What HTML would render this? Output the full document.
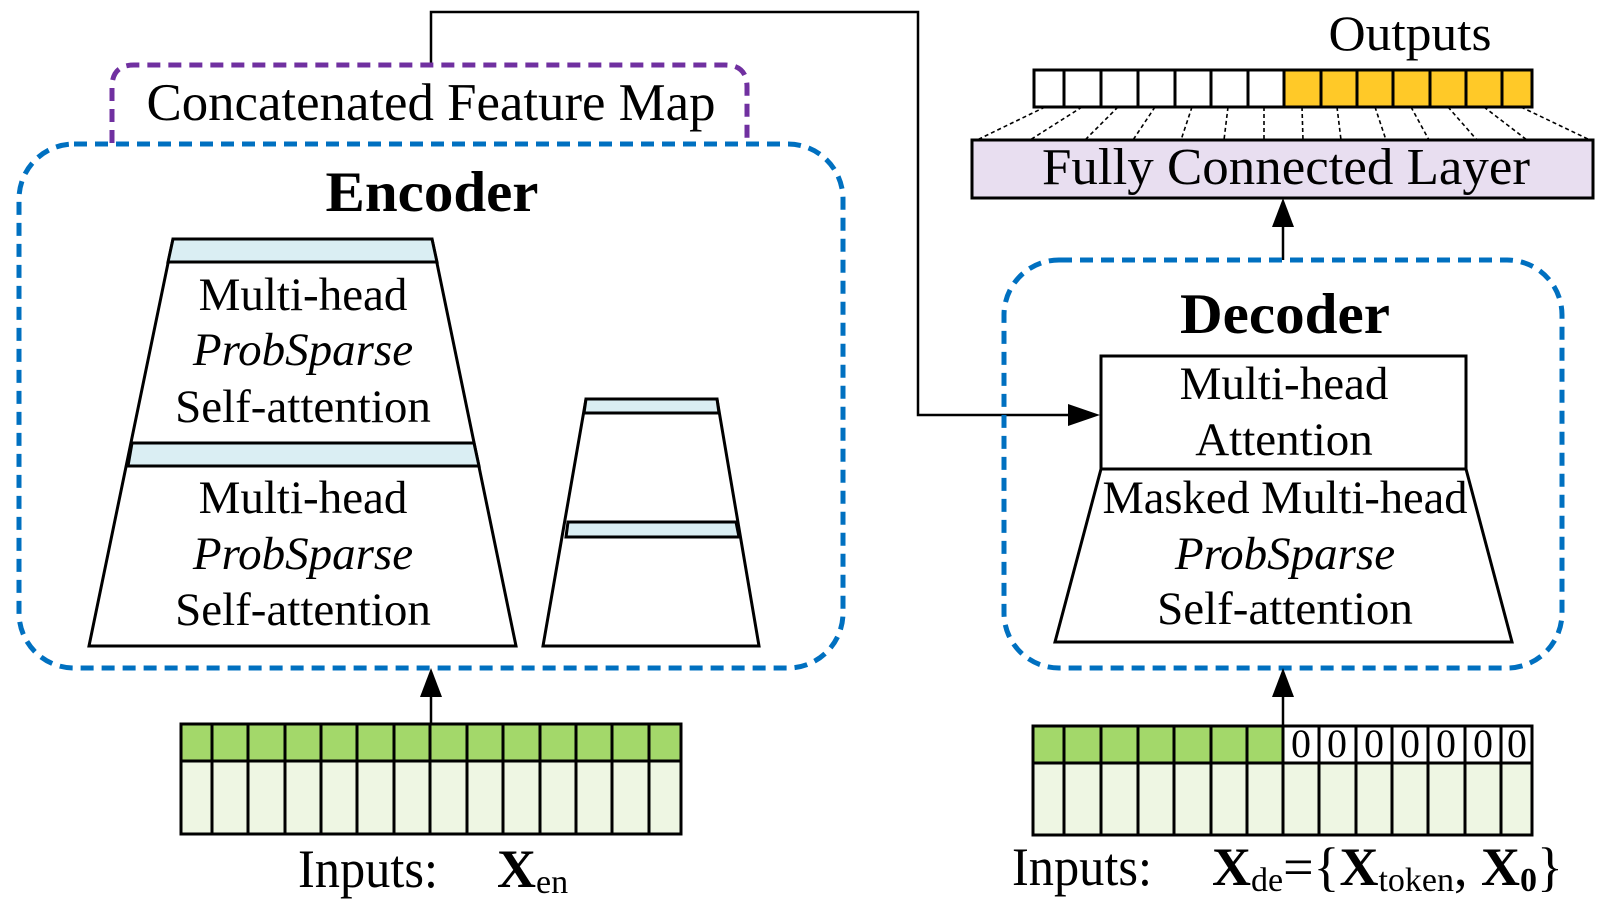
<!DOCTYPE html>
<html><head><meta charset="utf-8"><style>html,body{margin:0;padding:0;background:#fff}svg{display:block}</style></head>
<body>
<svg width="1610" height="908" viewBox="0 0 1610 908" xmlns="http://www.w3.org/2000/svg" font-family="'Liberation Serif', serif">
<!-- connector top -->
<polyline points="431,65 431,12 918,12 918,415 1070,415" fill="none" stroke="#000" stroke-width="2.5"/>
<polygon points="1100,415 1068,404 1068,426" fill="#000"/>

<!-- purple box -->
<path d="M112,143 L112,87 Q112,65 134,65 L725,65 Q747,65 747,87 L747,143" fill="none" stroke="#7030A0" stroke-width="5" stroke-dasharray="13,8"/>
<text x="431" y="120" font-size="53" text-anchor="middle" textLength="569" lengthAdjust="spacingAndGlyphs">Concatenated Feature Map</text>

<!-- encoder box -->
<rect x="19" y="144" width="824" height="524" rx="55" fill="none" stroke="#0070C0" stroke-width="5" stroke-dasharray="13,8"/>
<text x="432" y="211" font-size="57" font-weight="bold" text-anchor="middle" textLength="213" lengthAdjust="spacingAndGlyphs">Encoder</text>

<!-- big trapezoid -->
<polygon points="173,239 432,239 516,646 89,646" fill="#fff" stroke="#000" stroke-width="3"/>
<polygon points="173,239 432,239 437,262 168,262" fill="#DAEEF3" stroke="#000" stroke-width="3"/>
<polygon points="132,443 474,443 479,466 128,466" fill="#DAEEF3" stroke="#000" stroke-width="3"/>
<g font-size="47" text-anchor="middle">
<text x="303" y="310">Multi-head</text>
<text x="303" y="365" font-style="italic">ProbSparse</text>
<text x="303" y="422">Self-attention</text>
<text x="303" y="513">Multi-head</text>
<text x="303" y="569" font-style="italic">ProbSparse</text>
<text x="303" y="625">Self-attention</text>
</g>
<!-- small trapezoid -->
<polygon points="586,399 717,399 759,646 543,646" fill="#fff" stroke="#000" stroke-width="3"/>
<polygon points="586,399 717,399 719,413 584,413" fill="#DAEEF3" stroke="#000" stroke-width="3"/>
<polygon points="568,522 736,522 739,537 566,537" fill="#DAEEF3" stroke="#000" stroke-width="3"/>

<!-- encoder input bar -->
<rect x="181" y="724" width="500" height="37" fill="#A3D86A"/>
<rect x="181" y="761" width="500" height="73" fill="#EEF6E3"/>
<g stroke="#000" stroke-width="3" fill="none">
<rect x="181" y="724" width="500" height="110"/>
<line x1="181" y1="761" x2="681" y2="761"/>
<path d="M212,724V834M248,724V834M285,724V834M321,724V834M357,724V834M394,724V834M430,724V834M467,724V834M503,724V834M540,724V834M576,724V834M612,724V834M649,724V834"/>
</g>
<line x1="431" y1="724" x2="431" y2="695" stroke="#000" stroke-width="2.5"/>
<polygon points="431,668 420,697 442,697" fill="#000"/>
<text x="298" y="887" font-size="54" textLength="140" lengthAdjust="spacingAndGlyphs">Inputs:</text>
<text x="497" y="887" font-size="54"><tspan font-weight="bold">X</tspan><tspan font-size="34" dy="6">en</tspan></text>

<!-- outputs -->
<text x="1410" y="50" font-size="50" text-anchor="middle" textLength="163" lengthAdjust="spacingAndGlyphs">Outputs</text>
<rect x="1284" y="70" width="248" height="37" fill="#FFC928"/>
<g stroke="#000" stroke-width="3" fill="none">
<rect x="1034" y="70" width="498" height="37"/>
<path d="M1064,70V107M1101,70V107M1138,70V107M1175,70V107M1211,70V107M1248,70V107M1284,70V107M1321,70V107M1357,70V107M1393,70V107M1430,70V107M1466,70V107M1502,70V107"/>
</g>
<g stroke="#000" stroke-width="1.6" stroke-dasharray="4,3">
<line x1="1045" y1="107" x2="977" y2="140"/>
<line x1="1082" y1="107" x2="1030" y2="140"/>
<line x1="1118" y1="107" x2="1085" y2="140"/>
<line x1="1155" y1="107" x2="1133" y2="140"/>
<line x1="1192" y1="107" x2="1181" y2="140"/>
<line x1="1228" y1="107" x2="1224" y2="140"/>
<line x1="1264" y1="107" x2="1264" y2="140"/>
<line x1="1302" y1="107" x2="1303" y2="140"/>
<line x1="1337" y1="107" x2="1341" y2="140"/>
<line x1="1375" y1="107" x2="1386" y2="140"/>
<line x1="1411" y1="107" x2="1429" y2="140"/>
<line x1="1448" y1="107" x2="1477" y2="140"/>
<line x1="1484" y1="107" x2="1527" y2="140"/>
<line x1="1521" y1="107" x2="1590" y2="140"/>
</g>
<rect x="972" y="140" width="621" height="58" fill="#E8DEF0" stroke="#000" stroke-width="3"/>
<text x="1286" y="184" font-size="52" text-anchor="middle" textLength="488" lengthAdjust="spacingAndGlyphs">Fully Connected Layer</text>
<line x1="1283" y1="260" x2="1283" y2="225" stroke="#000" stroke-width="2.5"/>
<polygon points="1283,198 1272,227 1294,227" fill="#000"/>

<!-- decoder -->
<rect x="1004" y="260" width="558" height="408" rx="55" fill="none" stroke="#0070C0" stroke-width="5" stroke-dasharray="13,8"/>
<text x="1285" y="333" font-size="57" font-weight="bold" text-anchor="middle" textLength="210" lengthAdjust="spacingAndGlyphs">Decoder</text>
<rect x="1101" y="356" width="365" height="113" fill="#fff" stroke="#000" stroke-width="3"/>
<polygon points="1101,469 1466,469 1512,642 1055,642" fill="#fff" stroke="#000" stroke-width="3"/>
<g font-size="47" text-anchor="middle">
<text x="1284" y="399">Multi-head</text>
<text x="1284" y="455">Attention</text>
<text x="1285" y="513" textLength="365" lengthAdjust="spacingAndGlyphs">Masked Multi-head</text>
<text x="1285" y="569" font-style="italic">ProbSparse</text>
<text x="1285" y="624">Self-attention</text>
</g>

<!-- decoder input -->
<rect x="1033" y="726" width="250" height="37" fill="#A3D86A"/>
<rect x="1033" y="763" width="499" height="72" fill="#EEF6E3"/>
<g stroke="#000" stroke-width="3" fill="none">
<rect x="1033" y="726" width="499" height="109"/>
<line x1="1033" y1="763" x2="1532" y2="763"/>
<path d="M1064,726V835M1101,726V835M1138,726V835M1174,726V835M1211,726V835M1247,726V835M1283,726V835M1319,726V835M1356,726V835M1392,726V835M1428,726V835M1465,726V835M1501,726V835"/>
</g>
<g font-size="40" text-anchor="middle">
<text x="1301" y="757">0</text><text x="1337" y="757">0</text><text x="1374" y="757">0</text><text x="1410" y="757">0</text><text x="1446" y="757">0</text><text x="1483" y="757">0</text><text x="1517" y="757">0</text>
</g>
<line x1="1283" y1="726" x2="1283" y2="695" stroke="#000" stroke-width="2.5"/>
<polygon points="1283,668 1272,697 1294,697" fill="#000"/>
<text x="1012" y="885" font-size="54" textLength="140" lengthAdjust="spacingAndGlyphs">Inputs:</text>
<text x="1212" y="885" font-size="54"><tspan font-weight="bold">X</tspan><tspan font-size="34" dy="6">de</tspan><tspan dy="-6">={</tspan><tspan font-weight="bold">X</tspan><tspan font-size="34" dy="6">token</tspan><tspan dy="-6">, </tspan><tspan font-weight="bold">X</tspan><tspan font-size="34" font-weight="bold" dy="6">0</tspan><tspan dy="-6">}</tspan></text>
</svg>
</body></html>
